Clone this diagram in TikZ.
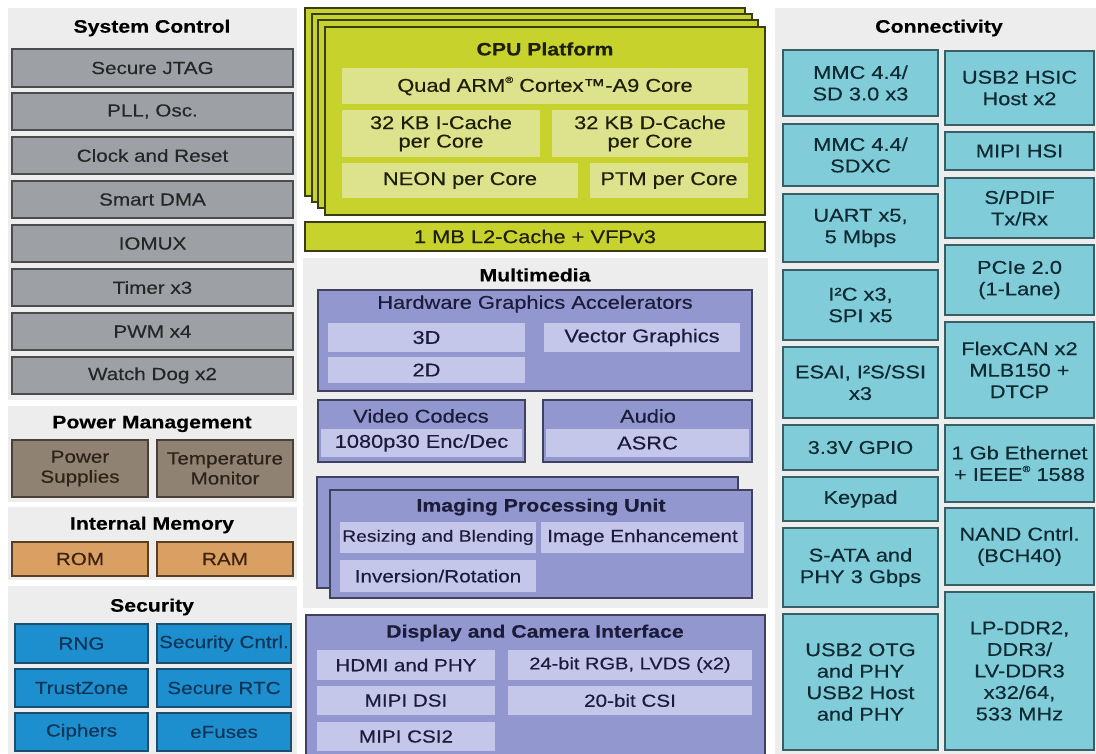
\documentclass[tikz,border=0pt]{standalone}
\usepackage{fontspec}
\setmainfont{Liberation Sans}[FakeStretch=1.18, FakeBold=0.35]
\definecolor{panelc}{HTML}{EDEDED}
\definecolor{sysc}{HTML}{9DA1A5}
\definecolor{sysbd}{HTML}{4A4C4E}
\definecolor{pwrc}{HTML}{8F8272}
\definecolor{pwrbd}{HTML}{4A4036}
\definecolor{pwrtxt}{HTML}{2B2219}
\definecolor{memc}{HTML}{DA9F62}
\definecolor{membd}{HTML}{5A3F22}
\definecolor{memtxt}{HTML}{3A2410}
\definecolor{secc}{HTML}{1E8FCE}
\definecolor{secbd}{HTML}{1C4E70}
\definecolor{sectxt}{HTML}{0D3558}
\definecolor{cpuc}{HTML}{C8D22C}
\definecolor{cpuin}{HTML}{DDE38C}
\definecolor{cpubd}{HTML}{3A3D12}
\definecolor{cputxt}{HTML}{1E1F08}
\definecolor{mmc}{HTML}{9397CF}
\definecolor{mmin}{HTML}{C4C6EA}
\definecolor{mmbd}{HTML}{3F4160}
\definecolor{mmtxt}{HTML}{1B1C3A}
\definecolor{connc}{HTML}{80CCD8}
\definecolor{connbd}{HTML}{3A5E66}
\definecolor{conntxt}{HTML}{0F2A33}
\newcommand\fsA{\fontsize{17.5}{20}\selectfont}
\newcommand\fsT{\fontsize{18}{21}\bfseries\selectfont}
\newcommand\fsC{\fontsize{18.5}{18.5}\selectfont}
\newcommand\fsM{\fontsize{18.5}{21}\selectfont}
\newcommand\fsK{\fontsize{18.5}{21.5}\selectfont}
\newcommand\regmark{\raisebox{0.9ex}{\fontsize{9}{9}\selectfont ®}}
\newcommand\bx[7]{\node[#1, minimum width={(#5-#3)*1pt}, minimum height={(#6-#4)*1pt}] (#2) at ({(#3+#5)/2},{(#4+#6)/2}) {#7};}
\begin{document}
\begin{tikzpicture}[x=1pt,y=-1pt,
  every node/.style={inner sep=0pt, outer sep=0pt, align=center},
  panel/.style={fill=panelc, draw=none, rectangle},
  title/.style={font=\fsT, text=black},
  sysbox/.style={rectangle, draw=sysbd, line width=1.3pt, fill=sysc, text=black!85, font=\fsA},
  pwrbox/.style={rectangle, draw=pwrbd, line width=1.3pt, fill=pwrc, text=pwrtxt, font=\fsA},
  membox/.style={rectangle, draw=membd, line width=1.3pt, fill=memc, text=memtxt, font=\fsA},
  secbox/.style={rectangle, draw=secbd, line width=1.3pt, fill=secc, text=sectxt, font=\fsA},
  cpubox/.style={rectangle, draw=cpubd, line width=1.3pt, fill=cpuc, text=cputxt, font=\fsC},
  cpuinner/.style={rectangle, draw=none, fill=cpuin, text=cputxt, font=\fsC},
  mmbox/.style={rectangle, draw=mmbd, line width=1.3pt, fill=mmc, text=mmtxt, font=\fsM},
  mminner/.style={rectangle, draw=none, fill=mmin, text=mmtxt, font=\fsM},
  connbox/.style={rectangle, draw=connbd, line width=1.3pt, fill=connc, text=conntxt, font=\fsK}
]
\useasboundingbox[fill=white] (0,0) rectangle (1096,754);

% ---------- left column panels ----------
\bx{panel}{pSys}{8}{8}{297}{400}{}
\bx{panel}{pPwr}{8}{406}{297}{502}{}
\bx{panel}{pMem}{8}{507}{297}{580}{}
\bx{panel}{pSec}{8}{586}{297}{754}{}

\node[title] (tSys) at (152,28) {System Control};
\bx{sysbox}{jtag}{12}{49}{293}{87}{Secure JTAG}
\bx{sysbox}{pll}{12}{93}{293}{130}{PLL, Osc.}
\bx{sysbox}{clk}{12}{137}{293}{174}{Clock and Reset}
\bx{sysbox}{dma}{12}{181}{293}{218}{Smart DMA}
\bx{sysbox}{iomux}{12}{225}{293}{262}{IOMUX}
\bx{sysbox}{timer}{12}{269}{293}{306}{Timer x3}
\bx{sysbox}{pwm}{12}{313}{293}{350}{PWM x4}
\bx{sysbox}{wdog}{12}{357}{293}{394}{Watch Dog x2}

\node[title] (tPwr) at (152,424) {Power Management};
\bx{pwrbox}{psup}{12}{440}{148}{497}{Power\\Supplies}
\bx{pwrbox}{tmon}{157}{440}{293}{497}{Temperature\\Monitor}

\node[title] (tMem) at (152,525) {Internal Memory};
\bx{membox}{rom}{12}{542}{148}{576}{ROM}
\bx{membox}{ram}{157}{542}{293}{576}{RAM}

\node[title] (tSec) at (152,607) {Security};
\bx{secbox}{rng}{15}{624}{148}{663}{RNG}
\bx{secbox}{scntrl}{157}{624}{291}{663}{Security Cntrl.}
\bx{secbox}{tz}{15}{669}{148}{707}{TrustZone}
\bx{secbox}{srtc}{157}{669}{291}{707}{Secure RTC}
\bx{secbox}{ciph}{15}{713}{148}{751}{Ciphers}
\bx{secbox}{efuse}{157}{713}{291}{751}{eFuses}

% ---------- CPU platform ----------
\bx{cpubox}{cpuL1}{305}{8}{745}{196}{}
\bx{cpubox}{cpuL2}{312}{14}{752}{202}{}
\bx{cpubox}{cpuL3}{318}{20}{758}{208}{}
\bx{cpubox}{cpuL4}{325}{27}{765}{215}{}
\node[font=\fsT, text=cputxt] (tCpu) at (545,49) {CPU Platform};
\bx{cpuinner}{quad}{342}{68}{748}{104}{Quad ARM\regmark{} Cortex™-A9 Core}
\bx{cpuinner}{icache}{342}{110}{540}{157}{32 KB I-Cache\\per Core}
\bx{cpuinner}{dcache}{552}{110}{748}{157}{32 KB D-Cache\\per Core}
\bx{cpuinner}{neon}{342}{163}{578}{198}{NEON per Core}
\bx{cpuinner}{ptm}{590}{163}{748}{198}{PTM per Core}
\bx{cpubox}{l2}{305}{222}{765}{251}{1 MB L2-Cache + VFPv3}

% ---------- Multimedia ----------
\bx{panel}{pMM}{303}{258}{768}{608}{}
\node[title] (tMM) at (535,275) {Multimedia};
\bx{mmbox}{hga}{318}{290}{752}{391}{}
\node[font=\fsM, text=mmtxt] (tHga) at (535,304) {Hardware Graphics Accelerators};
\bx{mminner}{g3d}{328}{323}{525}{352}{3D}
\bx{mminner}{vg}{544}{323}{740}{352}{Vector Graphics}
\bx{mminner}{g2d}{328}{357}{525}{383}{2D}

\bx{mmbox}{vc}{318}{400}{525}{462}{}
\node[font=\fsM, text=mmtxt] (tVc) at (421,416) {Video Codecs};
\bx{mminner}{enc}{321}{429}{522}{457}{1080p30 Enc/Dec}
\bx{mmbox}{aud}{543}{400}{752}{462}{}
\node[font=\fsM, text=mmtxt] (tAud) at (648,416) {Audio};
\bx{mminner}{asrc}{546}{429}{749}{457}{ASRC}

\bx{mmbox}{ipuB}{317}{477}{738}{588}{}
\bx{mmbox}{ipu}{330}{490}{752}{598}{}
\node[font=\fsT, text=mmtxt] (tIpu) at (541,507) {Imaging Processing Unit};
\bx{mminner}{resz}{340}{522}{536}{553}{\fontsize{16.3}{18}\selectfont Resizing and Blending}
\bx{mminner}{enh}{541}{522}{744}{553}{\fontsize{17.5}{20}\selectfont Image Enhancement}
\bx{mminner}{inv}{340}{560}{536}{592}{\fontsize{17.5}{20}\selectfont Inversion/Rotation}

\bx{mmbox}{disp}{306}{615}{765}{756}{}
\node[font=\fsT, text=mmtxt] (tDisp) at (535,633) {Display and Camera Interface};
\bx{mminner}{hdmi}{317}{650}{495}{680}{\fontsize{17.5}{20}\selectfont HDMI and PHY}
\bx{mminner}{rgb}{508}{650}{752}{680}{\fontsize{17}{20}\selectfont 24-bit RGB, LVDS (x2)}
\bx{mminner}{dsi}{317}{686}{495}{715}{\fontsize{17.5}{20}\selectfont MIPI DSI}
\bx{mminner}{csi}{508}{686}{752}{715}{\fontsize{17.5}{20}\selectfont 20-bit CSI}
\bx{mminner}{csi2}{317}{722}{495}{751}{\fontsize{17.5}{20}\selectfont MIPI CSI2}

% ---------- Connectivity ----------
\bx{panel}{pConn}{775}{8}{1096}{754}{}
\node[title] (tConn) at (939,28) {Connectivity};
\bx{connbox}{mmc1}{783}{50}{938}{116}{MMC 4.4/\\SD 3.0 x3}
\bx{connbox}{mmc2}{783}{124}{938}{186}{MMC 4.4/\\SDXC}
\bx{connbox}{uart}{783}{194}{938}{262}{UART x5,\\5 Mbps}
\bx{connbox}{i2c}{783}{270}{938}{340}{I²C x3,\\SPI x5}
\bx{connbox}{esai}{783}{347}{938}{418}{ESAI, I²S/SSI\\x3}
\bx{connbox}{gpio}{783}{425}{938}{470}{3.3V GPIO}
\bx{connbox}{key}{783}{477}{938}{521}{Keypad}
\bx{connbox}{sata}{783}{528}{938}{607}{S-ATA and\\PHY 3 Gbps}
\bx{connbox}{otg}{783}{614}{938}{750}{USB2 OTG\\and PHY\\USB2 Host\\and PHY}

\bx{connbox}{hsic}{945}{51}{1094}{125}{USB2 HSIC\\Host x2}
\bx{connbox}{hsi}{945}{132}{1094}{170}{MIPI HSI}
\bx{connbox}{spdif}{945}{178}{1094}{238}{S/PDIF\\Tx/Rx}
\bx{connbox}{pcie}{945}{245}{1094}{315}{PCIe 2.0\\(1-Lane)}
\bx{connbox}{can}{945}{322}{1094}{418}{FlexCAN x2\\MLB150 +\\DTCP}
\bx{connbox}{eth}{945}{425}{1094}{502}{1 Gb Ethernet\\+ IEEE\regmark{} 1588}
\bx{connbox}{nand}{945}{508}{1094}{585}{NAND Cntrl.\\(BCH40)}
\bx{connbox}{ddr}{945}{592}{1094}{750}{LP-DDR2,\\DDR3/\\LV-DDR3\\x32/64,\\533 MHz}
\end{tikzpicture}
\end{document}
